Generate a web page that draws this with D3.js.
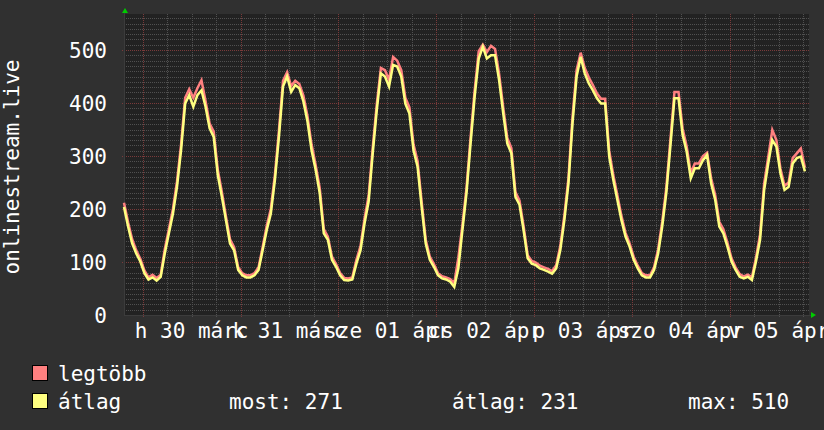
<!DOCTYPE html>
<html><head><meta charset="utf-8">
<script src="https://cdn.jsdelivr.net/npm/d3@7"></script>
<style>html,body{margin:0;padding:0;background:#303030;}svg{display:block;}</style>
</head><body>
<svg id="chart" width="824" height="430"></svg>
<script>
// hourly samples starting 2026-03-29 19:25 (UTC used as local clock)
const startTime = Date.UTC(2026, 2, 29, 19, 25);
const avgValues = [204,167,135,116,101,79,67,71,65,72,116,154,191,242,311,399,415,393,415,424,393,352,336,264,223,179,135,122,85,75,71,71,75,85,122,160,191,254,336,431,450,421,434,428,403,365,311,274,230,154,142,104,91,75,66,65,67,97,122,173,214,305,387,456,450,431,472,469,450,399,380,311,280,204,135,104,91,75,69,67,63,53,88,160,230,324,412,484,506,484,490,490,443,381,324,305,223,208,160,107,97,94,88,85,82,78,88,122,179,248,362,450,487,456,437,424,409,399,399,299,255,217,179,148,129,104,88,75,71,71,85,116,167,230,318,409,409,340,308,258,277,277,292,302,248,217,167,154,129,101,85,72,69,72,66,101,142,236,286,330,318,267,236,242,286,296,299,271];
const maxValues = [212,175,143,122,106,84,71,76,70,76,124,162,200,252,322,410,426,410,428,443,404,361,346,274,232,186,143,128,90,79,75,75,79,90,128,168,200,264,348,442,458,432,442,436,414,375,322,283,240,162,148,110,96,79,70,69,71,104,130,182,225,316,398,466,462,444,487,480,462,410,392,322,290,214,142,110,96,79,73,71,68,60,108,170,240,335,424,498,510,496,508,502,455,392,334,315,232,216,168,113,102,99,93,90,87,83,94,130,188,258,374,462,495,466,448,434,418,408,408,310,264,226,187,155,135,110,93,79,75,75,90,124,176,240,330,421,421,352,318,268,286,286,300,306,258,226,176,162,136,107,90,77,73,76,71,108,152,248,298,349,330,276,244,250,296,305,314,278];
const yTicks = [0,100,200,300,400,500];
const dayLabels = ["h 30 márc","k 31 márc","sze 01 ápr","cs 02 ápr","p 03 ápr","szo 04 ápr","v 05 ápr"];
const yTitle = "onlinestream.live";
const legendNames = ["legtöbb","átlag"];
const legendColors = ["#ff8080","#ffff80"];
const statLabels = ["most: 271","átlag: 231","max: 510"];

const HOUR = 3600e3;
const svg = d3.select("#chart");
const L = 124, R = 809, T = 14, B = 315;
const FONT = "'DejaVu Sans Mono', monospace";
const x = d3.scaleUtc().domain([new Date(startTime), new Date(startTime + 168*HOUR)]).range([L, R]);
const y = d3.scaleLinear().domain([0, 568]).range([B, T]);

svg.append("rect").attr("width",824).attr("height",430).attr("fill","#303030");
svg.append("rect").attr("x",L).attr("y",T).attr("width",R-L).attr("height",B-T).attr("fill","#222222");

// horizontal grid
const minorY = d3.range(10, 568, 10).filter(v => v % 100 !== 0);
svg.append("g").selectAll("line").data(minorY).join("line")
  .attr("x1",L).attr("x2",R+1).attr("y1",d=>Math.round(y(d))+0.5).attr("y2",d=>Math.round(y(d))+0.5)
  .attr("stroke","#505050").attr("stroke-dasharray","1,1");
// vertical grid
const sixHours = d3.utcHour.every(6).range(x.domain()[0], x.domain()[1]);
const minorX = sixHours.filter(d => d.getUTCHours() !== 0);
const majorX = sixHours.filter(d => d.getUTCHours() === 0);
svg.append("g").selectAll("line").data(minorX).join("line")
  .attr("x1",d=>Math.round(x(d))+0.5).attr("x2",d=>Math.round(x(d))+0.5).attr("y1",T).attr("y2",B+2)
  .attr("stroke","#505050").attr("stroke-dasharray","1,1");
svg.append("g").selectAll("line").data(yTicks.filter(v=>v>0)).join("line")
  .attr("x1",L-2).attr("x2",R+1).attr("y1",d=>Math.round(y(d))+0.5).attr("y2",d=>Math.round(y(d))+0.5)
  .attr("stroke","#7a3a3a").attr("stroke-dasharray","1,1");
svg.append("g").selectAll("line").data(majorX).join("line")
  .attr("x1",d=>Math.round(x(d))+0.5).attr("x2",d=>Math.round(x(d))+0.5).attr("y1",T).attr("y2",B+3)
  .attr("stroke","#7a3a3a").attr("stroke-dasharray","1,1");

// axes
svg.append("line").attr("x1",L+0.5).attr("x2",L+0.5).attr("y1",B).attr("y2",T-2).attr("stroke","#3c3c3c");
svg.append("line").attr("x1",L).attr("x2",R+3).attr("y1",B+0.5).attr("y2",B+0.5).attr("stroke","#3c3c3c");
svg.append("path").attr("d",`M122,13L128,13L125,8Z`).attr("fill","#00cc00");
svg.append("path").attr("d",`M811,312L811,318L816,315Z`).attr("fill","#00cc00");

// data lines
const line = d3.line().x((d,i)=>x(new Date(startTime + i*HOUR))).y(d=>y(d)).curve(d3.curveLinear);
svg.append("path").datum(maxValues).attr("d",line).attr("fill","none")
  .attr("stroke",legendColors[0]).attr("stroke-width",2.5).attr("stroke-linejoin","miter");
svg.append("path").datum(avgValues).attr("d",line).attr("fill","none")
  .attr("stroke",legendColors[1]).attr("stroke-width",2.5).attr("stroke-linejoin","miter");

// y tick labels
svg.append("g").selectAll("text").data(yTicks).join("text")
  .attr("x",107).attr("y",d=>y(d)+7.5).attr("text-anchor","end")
  .attr("font-family",FONT).attr("font-size",21).attr("fill","#ffffff").text(d=>d);

// x day labels at day centers
svg.append("g").selectAll("text").data(majorX.slice(0, dayLabels.length)).join("text")
  .attr("x",d=>x(new Date(+d + 12*HOUR))).attr("y",338).attr("text-anchor","middle")
  .attr("font-family",FONT).attr("font-size",21).attr("fill","#ffffff").text((d,i)=>dayLabels[i]);

// y title
svg.append("text").attr("transform","translate(19,167) rotate(-90)").attr("text-anchor","middle")
  .attr("font-family",FONT).attr("font-size",21).attr("fill","#ffffff").text(yTitle);

// legend
const leg = svg.append("g");
legendNames.forEach((n,i)=>{
  leg.append("rect").attr("x",32.5).attr("y",365.5+i*28).attr("width",15).attr("height",15)
    .attr("fill",legendColors[i]).attr("stroke","#000").attr("stroke-width",1);
  leg.append("text").attr("x",58).attr("y",381+i*28).attr("font-family",FONT).attr("font-size",21)
    .attr("fill","#ffffff").text(n);
});
const statX = [229,452,688];
statLabels.forEach((s,i)=>{
  leg.append("text").attr("x",statX[i]).attr("y",409).attr("font-family",FONT).attr("font-size",21)
    .attr("fill","#ffffff").text(s);
});
</script>
</body></html>
